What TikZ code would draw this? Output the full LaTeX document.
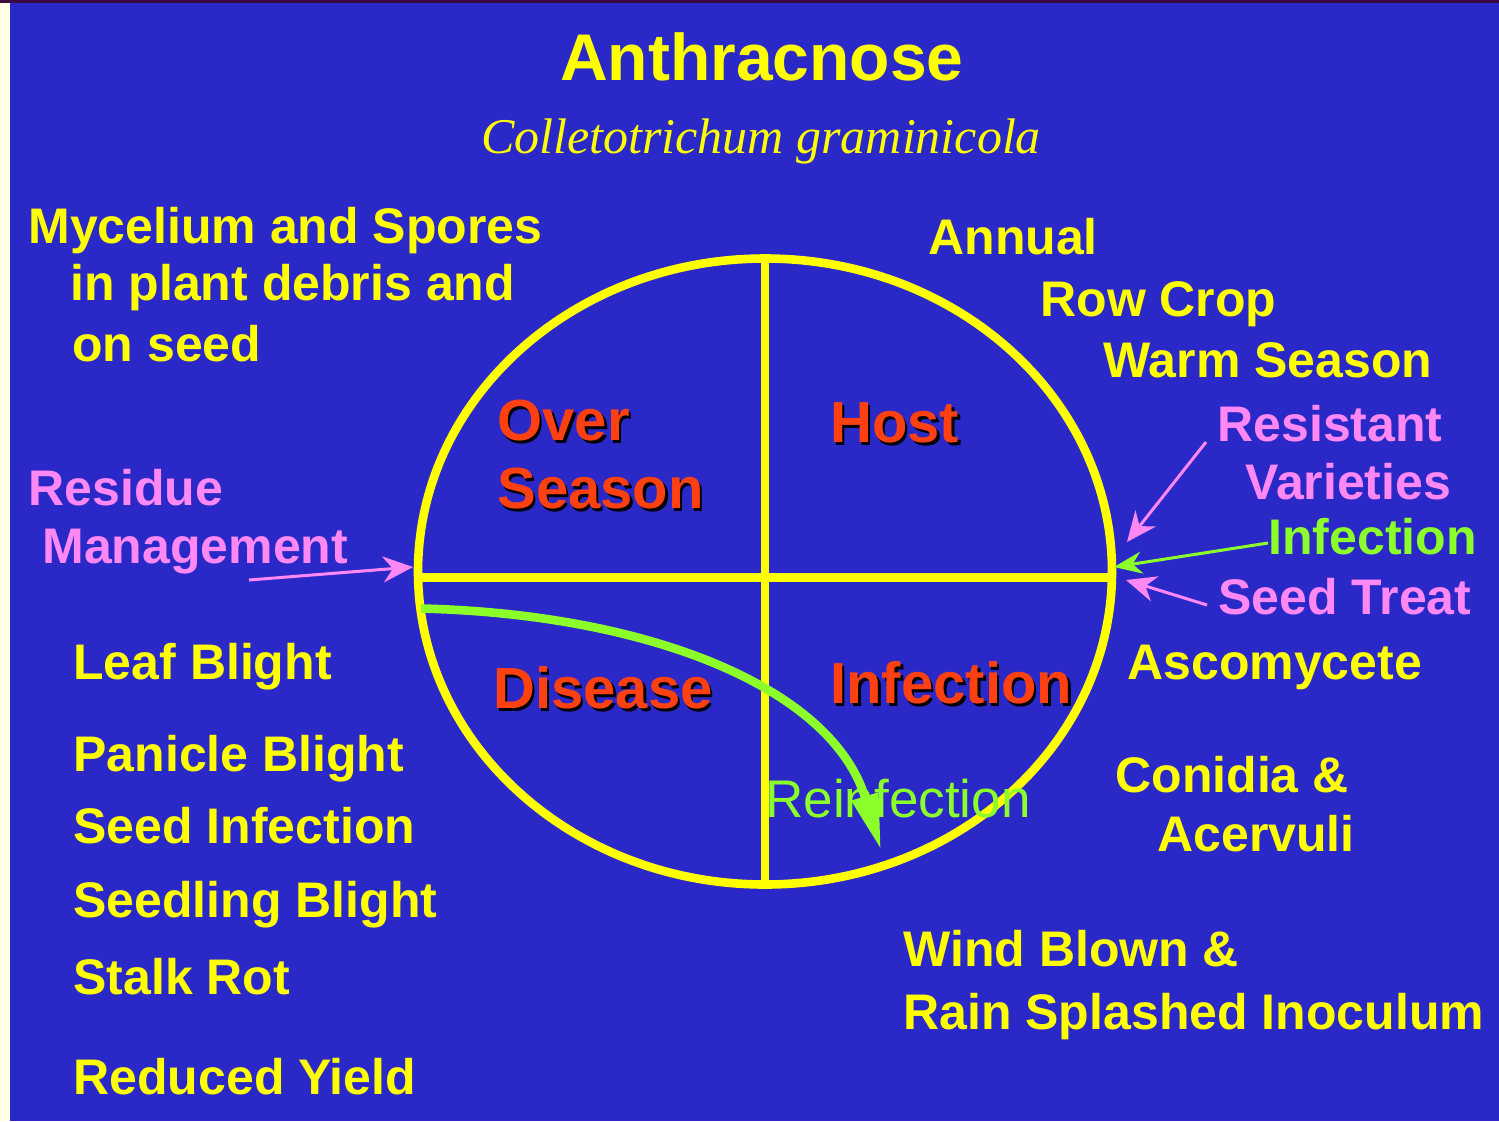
\documentclass[tikz,border=0pt]{standalone}
\usepackage{fontspec}
\setmainfont{Liberation Sans}
\newfontfamily\serifit{Liberation Serif}
\usetikzlibrary{arrows.meta}
\definecolor{cblue}{HTML}{2B28C8}
\definecolor{cyel}{HTML}{FFFF00}
\definecolor{cpink}{HTML}{FF88F4}
\definecolor{cgreen}{HTML}{8CFF2A}
\definecolor{cred}{HTML}{FF4010}
\definecolor{cstrip}{HTML}{FFFFE8}
\definecolor{ctop}{HTML}{3A0A40}
\tikzset{
  txt/.style={anchor=base west, inner sep=0pt, font=\bfseries\fontsize{25}{30}\selectfont},
  yel/.style={txt, text=cyel},
  pnk/.style={txt, text=cpink},
  grn/.style={txt, text=cgreen},
  quadtxt/.style={anchor=base west, inner sep=0pt, font=\bfseries\fontsize{29}{34}\selectfont, text=cred},
  wheel/.style={draw=cyel, line width=4.3pt},
  pinkarrow/.style={draw=cpink, line width=1.5pt, -{Stealth[length=15pt,width=13pt]}},
  greenarrow/.style={draw=cgreen, line width=1.5pt, -{Stealth[length=14pt,width=11pt]}},
  reinf/.style={draw=cgreen, line width=4.3pt, -{Triangle[length=28pt,width=13pt]}}
}
\newcommand{\shadowed}[1]{\makebox[0pt][l]{\kern1.25pt\raisebox{-1.75pt}{\color{black}#1}}#1}
\begin{document}
\begin{tikzpicture}[x=0.5pt,y=-0.5pt]
\useasboundingbox (0,0) rectangle (1499,1121);
% background
\fill[cstrip] (0,0) rectangle (10,1121);
\fill[cblue] (10,0) rectangle (1499,1121);
\fill[ctop] (0,0) rectangle (1499,2.5);

% title
\node[anchor=base, inner sep=0pt, font=\bfseries\fontsize{33}{40}\selectfont, text=cyel] (title) at (762,80) {Anthracnose};
\node[anchor=base, inner sep=0pt, font=\serifit\itshape\fontsize{25}{30}\selectfont, text=cyel] (subtitle) at (761,153) {Colletotrichum graminicola};

% wheel
\coordinate (C) at (765,571.5);
\draw[wheel] (C) ellipse [x radius=347, y radius=313];
\coordinate (top) at (765,258.5);
\coordinate (bot) at (765,884.5);
\coordinate (lft) at (419,577.5);
\coordinate (rgt) at (1111,577.5);
\draw[wheel] (top) -- (bot);
\draw[wheel] (lft) -- (rgt);

% quadrant labels
\node[quadtxt] (over) at (497,440) {\shadowed{Over}};
\node[quadtxt] (season) at (497,508) {\shadowed{Season}};
\node[quadtxt] (host) at (830,442) {\shadowed{Host}};
\node[quadtxt] (disease) at (493,708) {\shadowed{Disease}};
\node[quadtxt] (infq) at (830,703) {\shadowed{Infection}};

% reinfection
\node[txt, text=cgreen, font=\fontsize{26.5}{30}\selectfont] (reinf) at (765,817) {Reinfection};
\coordinate (rS) at (421,608.5);
\coordinate (rE) at (881,850);
\draw[reinf] (rS) .. controls (650,614) and (832,688) .. (rE);

% left texts
\node[yel] (myc1) at (28,243) {Mycelium and Spores};
\node[yel] (myc2) at (70,300) {in plant debris and};
\node[yel] (myc3) at (72,361) {on seed};
\node[pnk] (res1) at (28,505) {Residue};
\node[pnk] (res2) at (42,563) {Management};
\node[yel] (d1) at (73,679) {Leaf Blight};
\node[yel] (d2) at (73,771) {Panicle Blight};
\node[yel] (d3) at (73,843) {Seed Infection};
\node[yel] (d4) at (73,917) {Seedling Blight};
\node[yel] (d5) at (73,994) {Stalk Rot};
\node[yel] (d6) at (73,1094) {Reduced Yield};

% right texts
\node[yel] (h1) at (928,254) {Annual};
\node[yel] (h2) at (1040,316) {Row Crop};
\node[yel] (h3) at (1103,377) {Warm Season};
\node[pnk] (rv1) at (1217,441) {Resistant};
\node[pnk] (rv2) at (1245,499) {Varieties};
\node[grn] (inf) at (1268,554) {Infection};
\node[pnk] (st) at (1218,614) {Seed Treat};
\node[yel] (asc) at (1127,679) {Ascomycete};
\node[yel] (con1) at (1115,792) {Conidia \&};
\node[yel] (con2) at (1157,851) {Acervuli};
\node[yel] (w1) at (903,966) {Wind Blown \&};
\node[yel] (w2) at (903,1029) {Rain Splashed Inoculum};

% arrows
\coordinate (rmS) at (249,580);
\coordinate (rmE) at (413,567);
\draw[pinkarrow] (rmS) -- (rmE);
\coordinate (rvS) at (1206,442);
\coordinate (rvE) at (1127,542);
\draw[pinkarrow] (rvS) -- (rvE);
\coordinate (infS) at (1268,543);
\coordinate (infE) at (1114,567);
\draw[greenarrow] (infS) -- (infE);
\coordinate (stS) at (1207,605);
\coordinate (stE) at (1126,580);
\draw[pinkarrow] (stS) -- (stE);
\end{tikzpicture}
\end{document}
